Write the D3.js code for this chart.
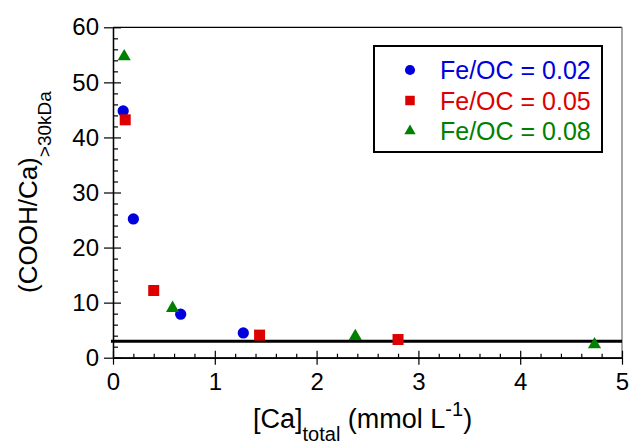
<!DOCTYPE html>
<html><head><meta charset="utf-8">
<script src="https://cdn.jsdelivr.net/npm/d3@7"></script>
<style>
body{margin:0;background:#fff;}
text{font-family:"Liberation Sans",Arial,sans-serif;}
</style></head>
<body><svg id="c" width="631" height="447"></svg>
<script>
const seriesNames = ["Fe/OC = 0.02","Fe/OC = 0.05","Fe/OC = 0.08"];
const seriesColors = ["#0000dd","#dd0000","#008000"];
const seriesShapes = ["circle","square","triangle"];
const caBlue = [0.10, 0.20, 0.665, 1.28];
const ratioBlue = [44.8, 25.2, 7.9, 4.5];
const caRed = [0.12, 0.40, 1.44, 2.80];
const ratioRed = [43.2, 12.2, 4.1, 3.3];
const caGreen = [0.11, 0.585, 2.38, 4.73];
const ratioGreen = [54.7, 9.0, 3.9, 2.4];
const refLineValue = 3;
const xTicks = [0,1,2,3,4,5];
const yTicks = [0,10,20,30,40,50,60];

const series = [
  {x: caBlue, y: ratioBlue},
  {x: caRed, y: ratioRed},
  {x: caGreen, y: ratioGreen}
];

const svg = d3.select("#c");
const L = 113, R = 622, T = 27.3, B = 357.7;
const x = d3.scaleLinear().domain([0,5]).range([L,R]);
const y = d3.scaleLinear().domain([0,60]).range([B,T]);

// frame (top & right)
svg.append("line").attr("x1",L).attr("x2",R).attr("y1",T).attr("y2",T).attr("stroke","#000").attr("stroke-width",1.2);
svg.append("line").attr("x1",R).attr("x2",R).attr("y1",T).attr("y2",B).attr("stroke","#888").attr("stroke-width",1.5);

function styleAxis(g){ g.select(".domain").attr("stroke","#000").attr("stroke-width",1.2); g.selectAll(".tick line").attr("stroke","#000").attr("stroke-width",1.2); }

// Y axis major (outer with labels)
const yAx = svg.append("g").attr("transform",`translate(${L},0)`)
  .call(d3.axisLeft(y).tickValues(yTicks).tickSize(9).tickPadding(5).tickSizeOuter(0));
styleAxis(yAx);
yAx.selectAll("text").attr("font-size",24).attr("fill","#000").attr("font-family","Liberation Sans, Arial, sans-serif");
// Y inner major
const yIn = svg.append("g").attr("transform",`translate(${L},0)`)
  .call(d3.axisRight(y).tickValues(yTicks).tickSize(8).tickFormat("").tickSizeOuter(0));
styleAxis(yIn);
// Y minor
const yMinor = d3.range(0,61,2).filter(v=>v%10!==0);
const yMi = svg.append("g").attr("transform",`translate(${L},0)`)
  .call(d3.axisRight(y).tickValues(yMinor).tickSize(5).tickFormat("").tickSizeOuter(0));
styleAxis(yMi);

// X axis
const xAx = svg.append("g").attr("transform",`translate(0,${B})`)
  .call(d3.axisBottom(x).tickValues(xTicks).tickSize(7).tickPadding(8).tickSizeOuter(0).tickFormat(d3.format("d")));
styleAxis(xAx);
xAx.selectAll("text").attr("font-size",24).attr("fill","#000").attr("font-family","Liberation Sans, Arial, sans-serif");
const xIn = svg.append("g").attr("transform",`translate(0,${B})`)
  .call(d3.axisTop(x).tickValues(xTicks).tickSize(7).tickFormat("").tickSizeOuter(0));
styleAxis(xIn);
const xMinor = d3.range(0,5.01,0.2).map(v=>+v.toFixed(1)).filter(v=>Math.abs(v-Math.round(v))>1e-6);
const xMi = svg.append("g").attr("transform",`translate(0,${B})`)
  .call(d3.axisTop(x).tickValues(xMinor).tickSize(4).tickFormat("").tickSizeOuter(0));
styleAxis(xMi);

// reference line
svg.append("line").attr("x1",L-2).attr("x2",R).attr("y1",y(refLineValue)).attr("y2",y(refLineValue))
  .attr("stroke","#000").attr("stroke-width",3);

// markers
const sym = {
  circle: d3.symbol().type(d3.symbolCircle).size(100),
  square: d3.symbol().type(d3.symbolSquare).size(121),
  triangle: d3.symbol().type(d3.symbolTriangle).size(75)
};
const legendSym = {
  circle: d3.symbol().type(d3.symbolCircle).size(80),
  square: d3.symbol().type(d3.symbolSquare).size(90),
  triangle: d3.symbol().type(d3.symbolTriangle).size(55)
};
series.forEach((s,i)=>{
  svg.append("g").selectAll("path").data(s.x.map((v,j)=>[v,s.y[j]])).join("path")
    .attr("transform",d=>`translate(${x(d[0])},${y(d[1])})`)
    .attr("d",sym[seriesShapes[i]]).attr("fill",seriesColors[i]);
});

// legend
const lg = svg.append("g");
lg.append("rect").attr("x",374).attr("y",46).attr("width",228).attr("height",106)
  .attr("fill","#fff").attr("stroke","#000").attr("stroke-width",2);
seriesNames.forEach((n,i)=>{
  const cy = 70 + i*30.5;
  lg.append("path").attr("transform",`translate(410,${cy})`).attr("d",legendSym[seriesShapes[i]]).attr("fill",seriesColors[i]);
  lg.append("text").attr("x",440).attr("y",cy+9).attr("font-size",25).attr("fill",seriesColors[i]).text(n);
});

// Y title
const yt = svg.append("text").attr("transform","translate(37,293) rotate(-90)").attr("font-size",26).attr("fill","#000");
yt.append("tspan").text("(COOH/Ca)");
yt.append("tspan").attr("dy",14).attr("font-size",19).text(">30kDa");

// X title
const xt = svg.append("text").attr("x",253).attr("y",428).attr("font-size",27).attr("fill","#000");
xt.append("tspan").text("[Ca]");
xt.append("tspan").attr("dy",13).attr("font-size",20).text("total");
xt.append("tspan").attr("dy",-13).text(" (mmol L");
xt.append("tspan").attr("dy",-12).attr("font-size",20).text("-1");
xt.append("tspan").attr("dy",12).text(")");
</script></body></html>
